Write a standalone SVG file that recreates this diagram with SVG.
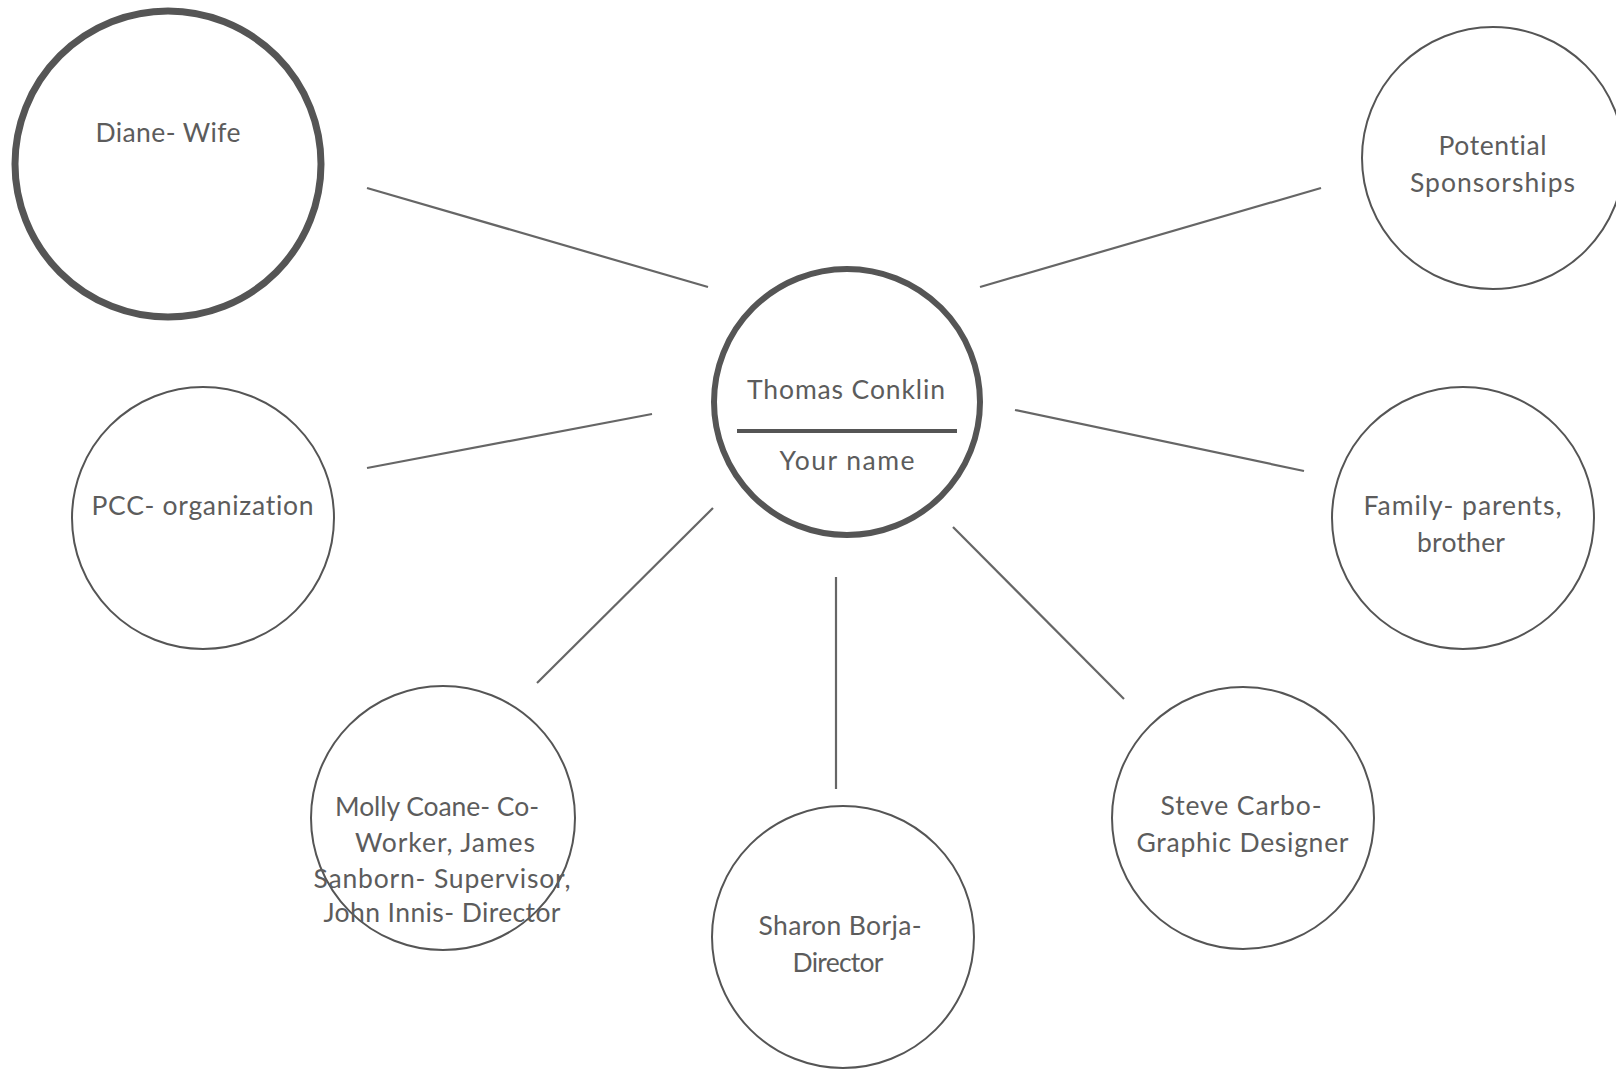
<svg xmlns="http://www.w3.org/2000/svg" width="1616" height="1069" viewBox="0 0 1616 1069">
<style>
.n{fill:#fff;stroke:#555;stroke-width:2}
.thick{stroke-width:7}
.mid{stroke-width:6}
.t{font-family:Lato,"Open Sans","Liberation Sans",sans-serif;font-size:26.5px;fill:#5c5c5c;text-anchor:middle;font-variant-ligatures:none}
.c{stroke:#666;stroke-width:2.2;fill:none}
</style>
<rect width="1616" height="1069" fill="#fff"/>
<g id="connectors">
<line class="c" x1="367" y1="188" x2="708" y2="287"/>
<line class="c" x1="980" y1="287" x2="1321" y2="188"/>
<line class="c" x1="367" y1="468" x2="652" y2="414"/>
<line class="c" x1="1015" y1="410" x2="1304" y2="471"/>
<line class="c" x1="537" y1="683" x2="713" y2="508"/>
<line class="c" x1="836" y1="577" x2="836" y2="789"/>
<line class="c" x1="953" y1="527" x2="1124" y2="699"/>
</g>
<g id="diane">
<circle class="n thick" cx="168" cy="164" r="153"/>
<text class="t" x="168" y="142" textLength="145" lengthAdjust="spacing">Diane- Wife</text>
</g>
<g id="center">
<circle class="n mid" cx="847" cy="402" r="133"/>
<text class="t" x="846" y="399" textLength="198" lengthAdjust="spacing">Thomas Conklin</text>
<line x1="737" y1="431" x2="957" y2="431" stroke="#555" stroke-width="4"/>
<text class="t" x="847" y="470" textLength="135" lengthAdjust="spacing">Your name</text>
</g>
<g id="sponsorships">
<circle class="n" cx="1493" cy="158" r="131"/>
<text class="t" x="1492.5" y="155" textLength="108" lengthAdjust="spacing">Potential</text>
<text class="t" x="1492.5" y="192" textLength="165" lengthAdjust="spacing">Sponsorships</text>
</g>
<g id="pcc">
<circle class="n" cx="203" cy="518" r="131"/>
<text class="t" x="202.5" y="515" textLength="222" lengthAdjust="spacing">PCC- organization</text>
</g>
<g id="family">
<circle class="n" cx="1463" cy="518" r="131"/>
<text class="t" x="1462.5" y="515" textLength="198" lengthAdjust="spacing">Family- parents,</text>
<text class="t" x="1461" y="552" textLength="88" lengthAdjust="spacing">brother</text>
</g>
<g id="molly">
<circle class="n" cx="443" cy="818" r="132"/>
<text class="t" x="437" y="816" textLength="204" lengthAdjust="spacing">Molly Coane- Co-</text>
<text class="t" x="445" y="852" textLength="180" lengthAdjust="spacing">Worker, James</text>
<text class="t" x="442" y="888" textLength="257" lengthAdjust="spacing">Sanborn- Supervisor,</text>
<text class="t" x="442" y="922" textLength="237" lengthAdjust="spacing">John Innis- Director</text>
</g>
<g id="sharon">
<circle class="n" cx="843" cy="937" r="131"/>
<text class="t" x="840" y="935" textLength="163" lengthAdjust="spacing">Sharon Borja-</text>
<text class="t" x="838" y="972" textLength="91" lengthAdjust="spacing">Director</text>
</g>
<g id="steve">
<circle class="n" cx="1243" cy="818" r="131"/>
<text class="t" x="1241" y="815" textLength="161" lengthAdjust="spacing">Steve Carbo-</text>
<text class="t" x="1242.5" y="852" textLength="212" lengthAdjust="spacing">Graphic Designer</text>
</g>
</svg>
